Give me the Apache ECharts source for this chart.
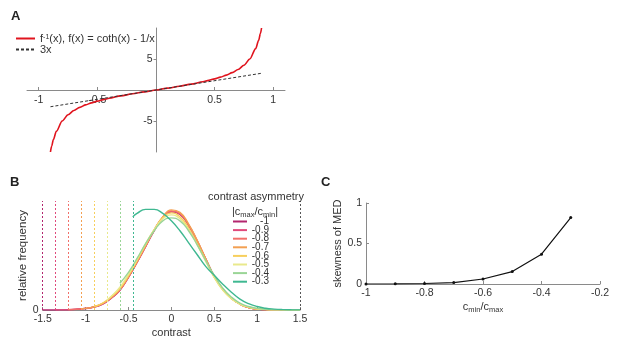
<!DOCTYPE html>
<html>
<head>
<meta charset="utf-8">
<script src="https://cdn.jsdelivr.net/npm/echarts@6/dist/echarts.min.js"></script>
<style>
  html, body { margin: 0; padding: 0; background: #fff; }
  #chart { width: 617px; height: 340px; }
</style>
</head>
<body>
<div id="chart"></div>
<script>
// panel A: inverse Langevin curve and its linear approximation 3x
const invX = [-0.9, -0.89, -0.875, -0.85, -0.8, -0.75, -0.7, -0.65, -0.6, -0.55, -0.5, -0.45, -0.4, -0.3, -0.2, -0.1,
  0, 0.1, 0.2, 0.3, 0.4, 0.45, 0.5, 0.55, 0.6, 0.65, 0.7, 0.75, 0.8, 0.85, 0.875, 0.89, 0.9]
const invY = [-10, -9.09, -8.0, -6.67, -5.0, -4.0, -3.31, -2.8, -2.4, -2.075, -1.8, -1.555, -1.335, -0.953, -0.615, -0.3,
  0, 0.3, 0.615, 0.953, 1.335, 1.555, 1.8, 2.075, 2.4, 2.8, 3.31, 4.0, 5.0, 6.67, 8.0, 9.09, 10]
const linX = [-0.9, 0.9]
const linY = [-2.7, 2.7]

// panel B: contrast distributions
const contrastGrid = [-1.5, -1.4, -1.3, -1.2, -1.1, -1.0, -0.9, -0.8, -0.7, -0.6, -0.5, -0.4, -0.3, -0.2, -0.1,
  0, 0.1, 0.2, 0.3, 0.4, 0.5, 0.6, 0.7, 0.8, 0.9, 1.0, 1.1, 1.2, 1.3, 1.4, 1.5]
const asymNames = ['-1', '-0.9', '-0.8', '-0.7', '-0.6', '-0.5', '-0.4', '-0.3']
const asymColors = ['#b3266e', '#e04a7c', '#f2706a', '#f3a052', '#f7cf5c', '#e9e98c', '#9ad596', '#3fb891']
const cutX = [-1.5, -1.35, -1.2, -1.05, -0.9, -0.75, -0.6, -0.45]
const cutY = [0, 0, 0.003, 0.011, 0.035, 0.1, 0.27, 0.94]
const freqM10 = [0, 0, 0.001, 0.003, 0.008, 0.015, 0.03, 0.06, 0.12, 0.2, 0.33, 0.48, 0.64, 0.8, 0.93,
  0.99, 0.965, 0.855, 0.695, 0.515, 0.34, 0.21, 0.12, 0.06, 0.025, 0.01, 0.004, 0.001, 0, 0, 0]
const freqM09 = [null, null, 0.001, 0.003, 0.008, 0.016, 0.031, 0.062, 0.122, 0.202, 0.332, 0.482, 0.642, 0.802, 0.932,
  0.995, 0.97, 0.858, 0.697, 0.516, 0.34, 0.21, 0.12, 0.06, 0.025, 0.01, 0.004, 0.001, 0, 0, 0]
const freqM08 = [null, null, null, 0.003, 0.008, 0.016, 0.032, 0.064, 0.124, 0.205, 0.335, 0.485, 0.645, 0.805, 0.936,
  1.0, 0.975, 0.862, 0.7, 0.518, 0.34, 0.21, 0.12, 0.06, 0.025, 0.01, 0.004, 0.001, 0, 0, 0]
const freqM07 = [null, null, null, null, null, 0.017, 0.033, 0.066, 0.127, 0.208, 0.338, 0.488, 0.648, 0.81, 0.94,
  1.01, 0.985, 0.87, 0.705, 0.52, 0.34, 0.21, 0.12, 0.06, 0.025, 0.01, 0.004, 0.001, 0, 0, 0]
const freqM06 = [null, null, null, null, null, null, 0.035, 0.07, 0.135, 0.22, 0.35, 0.5, 0.66, 0.81, 0.93,
  0.98, 0.94, 0.83, 0.67, 0.5, 0.33, 0.2, 0.115, 0.06, 0.028, 0.012, 0.005, 0.002, 0.001, 0, 0]
const freqM05 = [null, null, null, null, null, null, null, null, 0.14, 0.23, 0.36, 0.51, 0.67, 0.81, 0.92,
  0.96, 0.92, 0.81, 0.66, 0.49, 0.33, 0.2, 0.115, 0.06, 0.03, 0.013, 0.006, 0.002, 0.001, 0, 0]
const freqM04 = [null, null, null, null, null, null, null, null, null, null, 0.38, 0.52, 0.67, 0.8, 0.9,
  0.93, 0.9, 0.8, 0.66, 0.5, 0.35, 0.22, 0.13, 0.07, 0.035, 0.017, 0.008, 0.003, 0.001, 0, 0]
const freqM03 = [null, null, null, null, null, null, null, null, null, null, null, 0.975, 1.015, 1.015, 0.975,
  0.9, 0.8, 0.68, 0.56, 0.44, 0.35, 0.26, 0.18, 0.11, 0.065, 0.035, 0.018, 0.009, 0.004, 0.002, 0.001]
const freqAll = [freqM10, freqM09, freqM08, freqM07, freqM06, freqM05, freqM04, freqM03]
const cMax = 1.5

// panel C: skewness
const ratioX = [-1, -0.9, -0.8, -0.7, -0.6, -0.5, -0.4, -0.3]
const skewY = [0, 0.002, 0.006, 0.017, 0.062, 0.153, 0.368, 0.82]

const FONT = 'Liberation Sans, Arial, sans-serif'
const TXT = '#333'
const AXC = '#8a8a8a'

const zip = (xs, ys) => xs.map((x, i) => [x, ys[i]])

const distData = (k) => {
  const pts = [[cutX[k], cutY[k]]]
  contrastGrid.forEach((x, i) => {
    const v = freqAll[k][i]
    if (v != null && x > cutX[k] + 1e-9) pts.push([x, v])
  })
  return pts
}

const axisBase = {
  axisLine: { onZero: false, lineStyle: { color: AXC, width: 1 } },
  axisTick: { inside: true, length: 3, lineStyle: { color: AXC } },
  axisLabel: { color: TXT, fontSize: 10.5, fontFamily: FONT, margin: 4 },
  splitLine: { show: false },
}

const subRich = {
  n: { fontSize: 11, fontFamily: FONT, color: TXT, lineHeight: 14 },
  s: { fontSize: 7.5, fontFamily: FONT, color: TXT, lineHeight: 8, verticalAlign: 'bottom' },
}

// grid A geometry (axes cross at the centre)
const gA = { left: 27, top: 28, width: 258, height: 124 }

let option = {
  animation: false,
  backgroundColor: '#fff',
  textStyle: { fontFamily: FONT },
  title: [
    { text: 'A', left: 6, top: 5, textStyle: { fontSize: 13, fontWeight: 'bold', color: '#222', fontFamily: FONT } },
    { text: 'B', left: 5, top: 171, textStyle: { fontSize: 13, fontWeight: 'bold', color: '#222', fontFamily: FONT } },
    { text: 'C', left: 316, top: 171, textStyle: { fontSize: 13, fontWeight: 'bold', color: '#222', fontFamily: FONT } },
    { text: 'contrast asymmetry', left: 251, top: 186, textAlign: 'center',
      textStyle: { fontSize: 11, fontWeight: 'normal', color: TXT, fontFamily: FONT } },
    { text: '{n||c}{s|max}{n|/c}{s|min}{n||}', left: 250, top: 200, textAlign: 'center',
      textStyle: { fontSize: 11, fontWeight: 'normal', rich: subRich } },
  ],
  legend: [
    {
      data: ['f', '3x'],
      orient: 'vertical',
      left: 15,
      top: 33,
      padding: 0,
      itemWidth: 19,
      itemHeight: 9,
      itemGap: 0,
      itemStyle: { opacity: 0, borderWidth: 0 },
      formatter: (name) => name === 'f'
        ? '{t|f}{sup|-1}{t|(x), f(x) = coth(x) - 1/x}'
        : '{t|3x}',
      textStyle: {
        rich: {
          t: { fontSize: 11, fontFamily: FONT, color: TXT, lineHeight: 9 },
          sup: { fontSize: 7, fontFamily: FONT, color: TXT, lineHeight: 6, verticalAlign: 'top' },
        },
      },
    },
    {
      data: asymNames,
      orient: 'vertical',
      left: 232,
      top: 216.5,
      padding: 0,
      itemWidth: 14,
      itemHeight: 8.6,
      itemGap: -1.4,
      itemStyle: { opacity: 0, borderWidth: 0 },
      formatter: (name) => '{r|' + name + '}',
      textStyle: {
        rich: { r: { fontSize: 10, fontFamily: FONT, color: TXT, lineHeight: 8.6, width: 17, align: 'right' } },
      },
    },
  ],
  grid: [
    gA,
    { left: 42.7, top: 201, width: 257.3, height: 109 },
    { left: 366, top: 203, width: 234, height: 81 },
  ],
  xAxis: [
    {
      ...axisBase, gridIndex: 0, type: 'value', min: -1.1, max: 1.1,
      position: 'bottom', offset: -gA.height / 2,
      axisTick: { ...axisBase.axisTick, customValues: [-1, -0.5, 0.5, 1] },
      axisLabel: { ...axisBase.axisLabel, customValues: [-1, -0.5, 0.5, 1], margin: 5 },
    },
    {
      ...axisBase, gridIndex: 1, type: 'value', min: -1.5, max: 1.5, interval: 0.5,
      name: 'contrast', nameLocation: 'middle', nameGap: 17,
      nameTextStyle: { fontSize: 11, color: TXT, fontFamily: FONT },
    },
    {
      ...axisBase, gridIndex: 2, type: 'value', min: -1, max: -0.2, interval: 0.2,
      name: '{n|c}{s|min}{n|/c}{s|max}', nameLocation: 'middle', nameGap: 16,
      nameTextStyle: { rich: subRich },
    },
  ],
  yAxis: [
    {
      ...axisBase, gridIndex: 0, type: 'value', min: -10, max: 10,
      position: 'left', offset: -gA.width / 2 - 0.5,
      axisTick: { inside: false, length: 3, lineStyle: { color: AXC }, customValues: [-5, 5] },
      axisLabel: { ...axisBase.axisLabel, customValues: [-5, 5] },
    },
    {
      ...axisBase, gridIndex: 1, type: 'value', min: 0, max: 1.1,
      axisLine: { show: false }, axisTick: { show: false },
      axisLabel: { ...axisBase.axisLabel, customValues: [0] },
      name: 'relative frequency', nameLocation: 'middle', nameGap: 12,
      nameTextStyle: { fontSize: 11.5, color: TXT, fontFamily: FONT },
    },
    {
      ...axisBase, gridIndex: 2, type: 'value', min: 0, max: 1, interval: 0.5,
      name: 'skewness of MED', nameLocation: 'middle', nameGap: 20,
      nameTextStyle: { fontSize: 11, color: TXT, fontFamily: FONT },
    },
  ],
  series: [
    {
      name: 'f', type: 'line', xAxisIndex: 0, yAxisIndex: 0,
      data: zip(invX, invY), smooth: 0.3, smoothMonotone: 'x', showSymbol: false, symbol: 'none',
      lineStyle: { color: '#e0141e', width: 1.6 }, itemStyle: { color: '#e0141e' },
    },
    {
      name: '3x', type: 'line', xAxisIndex: 0, yAxisIndex: 0,
      data: zip(linX, linY), showSymbol: false, symbol: 'none',
      lineStyle: { color: '#333', width: 1, type: [3, 2] }, itemStyle: { color: '#333' },
    },
    ...asymNames.map((name, k) => ({
      name, type: 'line', xAxisIndex: 1, yAxisIndex: 1,
      data: distData(k), smooth: true, showSymbol: false, symbol: 'none',
      lineStyle: { color: asymColors[k], width: 1.4 }, itemStyle: { color: asymColors[k] },
      markLine: {
        silent: true, symbol: ['none', 'none'], label: { show: false },
        lineStyle: { color: asymColors[k], type: [2, 2], width: 1 },
        data: [{ xAxis: cutX[k] }],
      },
    })),
    {
      name: 'cmax', type: 'line', xAxisIndex: 1, yAxisIndex: 1, data: [],
      markLine: {
        silent: true, symbol: ['none', 'none'], label: { show: false },
        lineStyle: { color: '#555', type: [2, 2], width: 1 },
        data: [{ xAxis: cMax }],
      },
    },
    {
      name: 'skew', type: 'line', xAxisIndex: 2, yAxisIndex: 2,
      data: zip(ratioX, skewY), symbol: 'circle', symbolSize: 3, showSymbol: true,
      lineStyle: { color: '#111', width: 1.2 }, itemStyle: { color: '#111' },
    },
  ],
}

const dom = document.getElementById('chart')
const chart = echarts.init(dom, null, { renderer: 'canvas' })
chart.setOption(option)
</script>
</body>
</html>
